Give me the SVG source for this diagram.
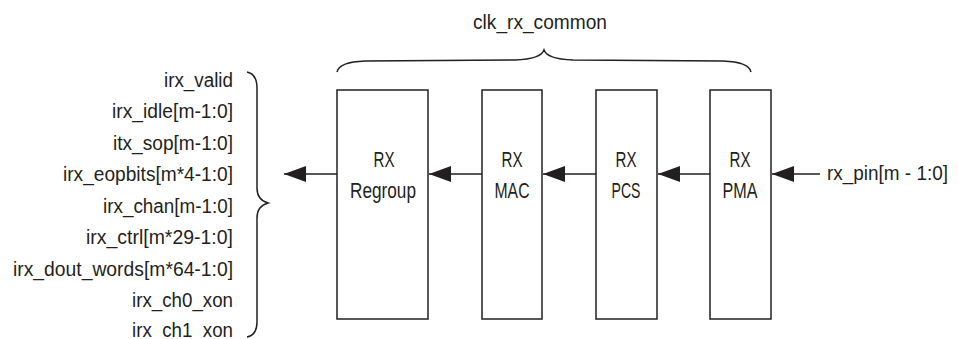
<svg xmlns="http://www.w3.org/2000/svg" width="958" height="339" viewBox="0 0 958 339">
<style>
text{font-family:"Liberation Sans",Arial,sans-serif;font-size:20px;fill:#231f20}
.lbl{text-anchor:end}
.c{text-anchor:middle}
.b{font-size:22.5px}
.box{fill:#fff;stroke:#231f20;stroke-width:1.5}
.ln{fill:none;stroke:#231f20;stroke-width:1.5}
</style>
<defs>
<marker id="ah" markerWidth="22" markerHeight="16" refX="22" refY="8" orient="auto" markerUnits="userSpaceOnUse">
<path d="M0,0 L22,8 L0,16 Z" fill="#231f20"/>
</marker>
</defs>
<rect width="958" height="339" fill="#fff"/>
<g id="signals">
<text class="lbl" x="233" y="87" textLength="69" lengthAdjust="spacingAndGlyphs">irx_valid</text>
<text class="lbl" x="233" y="118" textLength="121" lengthAdjust="spacingAndGlyphs">irx_idle[m-1:0]</text>
<text class="lbl" x="233" y="150" textLength="120" lengthAdjust="spacingAndGlyphs">itx_sop[m-1:0]</text>
<text class="lbl" x="233" y="181" textLength="170" lengthAdjust="spacingAndGlyphs">irx_eopbits[m*4-1:0]</text>
<text class="lbl" x="233" y="213" textLength="130" lengthAdjust="spacingAndGlyphs">irx_chan[m-1:0]</text>
<text class="lbl" x="233" y="244" textLength="147" lengthAdjust="spacingAndGlyphs">irx_ctrl[m*29-1:0]</text>
<text class="lbl" x="233" y="276" textLength="220" lengthAdjust="spacingAndGlyphs">irx_dout_words[m*64-1:0]</text>
<text class="lbl" x="233" y="307" textLength="101" lengthAdjust="spacingAndGlyphs">irx_ch0_xon</text>
<text class="lbl" x="233" y="337" textLength="101" lengthAdjust="spacingAndGlyphs">irx_ch1_xon</text>
<path class="ln" d="M247,72 Q257,74 257,88 L257,188 Q257,200 268,203 Q257,206 257,218 L257,322 Q257,335 247,337"/>
</g>
<g id="clock">
<text class="c" x="540" y="29" textLength="134" lengthAdjust="spacingAndGlyphs">clk_rx_common</text>
<path class="ln" d="M337,72 Q339,62 365,61 L515,60 Q541,59 544,50 Q547,59 573,60 L723,61 Q749,62 751,72"/>
</g>
<g id="rx-regroup">
<rect class="box" x="337" y="90" width="91" height="229"/>
<text class="c b" x="384" y="167" textLength="21" lengthAdjust="spacingAndGlyphs">RX</text>
<text class="c b" x="383" y="198" textLength="66" lengthAdjust="spacingAndGlyphs">Regroup</text>
</g>
<g id="rx-mac">
<rect class="box" x="482" y="90" width="60" height="229"/>
<text class="c b" x="512" y="167" textLength="21" lengthAdjust="spacingAndGlyphs">RX</text>
<text class="c b" x="512" y="198" textLength="35" lengthAdjust="spacingAndGlyphs">MAC</text>
</g>
<g id="rx-pcs">
<rect class="box" x="596" y="90" width="61" height="229"/>
<text class="c b" x="626" y="167" textLength="21" lengthAdjust="spacingAndGlyphs">RX</text>
<text class="c b" x="626" y="198" textLength="29" lengthAdjust="spacingAndGlyphs">PCS</text>
</g>
<g id="rx-pma">
<rect class="box" x="710" y="90" width="61" height="229"/>
<text class="c b" x="740" y="167" textLength="21" lengthAdjust="spacingAndGlyphs">RX</text>
<text class="c b" x="740" y="198" textLength="35" lengthAdjust="spacingAndGlyphs">PMA</text>
</g>
<g id="rx-pin">
<text x="827" y="180" textLength="121" lengthAdjust="spacingAndGlyphs">rx_pin[m - 1:0]</text>
</g>
<g id="connectors">
<line class="ln" x1="820" y1="174" x2="772" y2="174" marker-end="url(#ah)"/>
<line class="ln" x1="710" y1="174" x2="658" y2="174" marker-end="url(#ah)"/>
<line class="ln" x1="596" y1="174" x2="543" y2="174" marker-end="url(#ah)"/>
<line class="ln" x1="482" y1="174" x2="429" y2="174" marker-end="url(#ah)"/>
<line class="ln" x1="337" y1="174" x2="284" y2="174" marker-end="url(#ah)"/>
</g>
</svg>
